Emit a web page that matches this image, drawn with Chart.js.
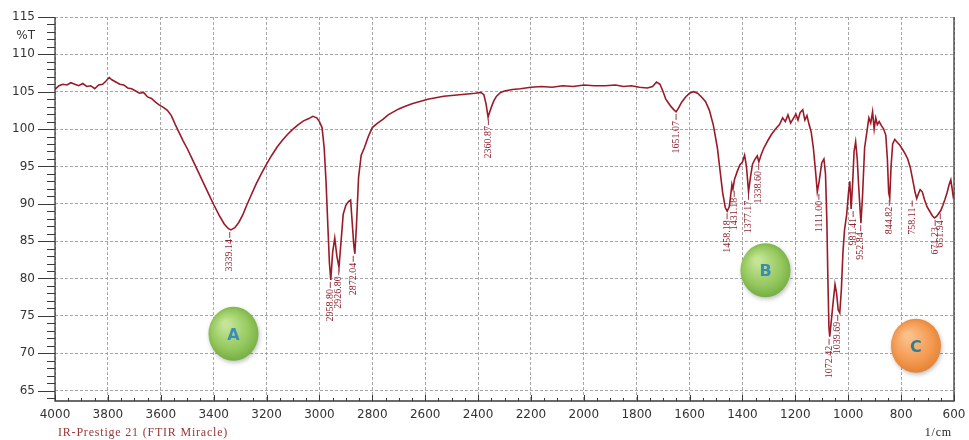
<!DOCTYPE html>
<html>
<head>
<meta charset="utf-8">
<script src="https://cdn.jsdelivr.net/npm/chart.js@4"></script>
<style>
html,body{margin:0;padding:0;background:#fff;}
canvas{display:block;}
</style>
</head>
<body>
<canvas id="c" width="969" height="440"></canvas>
<script>
// ---- data ----
const wavenumbers = [
4000,3985,3970,3955,3940,3925,3910,3895,3880,3865,3850,3835,3820,3808,3795,3785,3770,3755,3740,3725,
3710,3695,3680,3665,3650,3635,3620,3605,3590,3575,3560,3545,3530,3515,3500,3480,3460,3440,3420,3400,
3380,3360,3345,3335,3320,3305,3290,3275,3260,3240,3220,3200,3180,3160,3140,3120,3100,3080,3060,3040,
3025,3010,3000,2990,2982,2975,2968,2962,2957,2950,2942,2934,2926,2918,2910,2900,2890,2882,2876,2870,
2866,2860,2852,2842,2830,2815,2800,2780,2760,2740,2720,2700,2680,2650,2620,2590,2560,2530,2500,2470,
2440,2410,2390,2378,2370,2362,2355,2348,2340,2330,2315,2300,2270,2240,2200,2160,2120,2080,2040,2000,
1960,1920,1880,1850,1820,1790,1760,1740,1725,1712,1700,1690,1680,1670,1660,1651,1642,1630,1615,1600,
1585,1570,1555,1540,1525,1510,1495,1485,1475,1465,1458,1450,1445,1440,1436,1430,1420,1410,1400,1392,
1385,1377,1370,1362,1352,1344,1338,1330,1320,1305,1290,1275,1260,1248,1238,1228,1218,1208,1198,1190,
1182,1172,1164,1156,1148,1140,1132,1124,1117,1110,1100,1092,1086,1081,1077,1073,1070,1065,1058,1050,
1044,1038,1032,1026,1020,1014,1006,999,994,989,983,978,972,966,960,952,946,938,930,922,
915,908,902,896,890,883,875,866,858,852,847,843,838,832,824,814,804,795,785,775,
765,755,747,741,735,728,720,712,702,692,682,674,666,658,650,642,634,626,618,612,
607,603,600
];
const transmittance = [
105.3,105.8,106.0,105.9,106.2,106.0,105.8,106.1,105.7,105.8,105.4,105.9,106.0,106.4,106.9,106.6,106.3,106.0,105.9,105.5,
105.4,105.1,104.8,104.9,104.3,104.1,103.6,103.2,102.9,102.5,101.8,100.6,99.5,98.4,97.4,95.9,94.4,92.9,91.4,89.9,
88.5,87.3,86.7,86.5,86.8,87.5,88.5,89.8,91.0,92.6,94.0,95.3,96.5,97.6,98.5,99.3,100.0,100.6,101.1,101.4,
101.7,101.5,101.0,100.2,97.5,93.0,87.0,82.0,79.8,83.5,85.4,83.0,81.5,85.0,88.6,89.8,90.3,90.5,87.5,84.5,
83.3,87.0,93.5,96.5,97.5,99.0,100.2,100.8,101.3,101.9,102.3,102.7,103.0,103.4,103.7,104.0,104.2,104.4,104.5,104.6,
104.7,104.8,104.9,104.6,103.4,101.6,102.4,103.1,103.8,104.4,104.9,105.1,105.3,105.4,105.6,105.7,105.6,105.8,105.7,105.9,
105.8,105.8,105.9,105.7,105.8,105.6,105.5,105.7,106.3,106.0,105.0,104.0,103.5,103.0,102.6,102.3,102.8,103.6,104.3,104.8,
105.0,104.8,104.3,103.7,102.5,100.5,97.5,94.5,91.5,89.5,89.0,89.6,91.0,92.6,92.0,93.3,94.3,95.2,95.6,96.5,
95.0,91.6,93.5,95.3,96.0,96.4,95.6,96.5,97.4,98.4,99.3,100.0,100.6,101.5,101.0,101.9,100.8,101.4,102.0,101.2,
102.2,102.6,101.2,101.8,100.6,99.6,97.5,94.5,91.6,93.0,95.5,96.0,94.0,88.0,80.0,73.5,72.2,74.0,76.5,79.2,
78.0,75.8,75.4,78.5,83.5,86.5,88.5,91.5,93.0,89.3,93.0,97.0,98.3,96.0,92.0,87.4,91.0,97.5,99.5,101.5,
100.8,102.3,100.0,101.5,100.6,101.0,100.5,100.0,99.2,96.0,91.5,90.8,95.0,98.0,98.6,98.2,97.8,97.3,96.7,96.0,
94.8,93.0,91.5,90.7,91.3,91.9,91.6,90.6,89.6,89.0,88.4,88.1,88.3,88.7,89.1,89.8,90.6,91.5,92.6,93.2,
92.0,91.0,91.3
];
const xTickValues = [4000,3800,3600,3400,3200,3000,2800,2600,2400,2200,2000,1800,1600,1400,1200,1000,800,600];
const yTickValues = [65,70,75,80,85,90,95,100,105,110,115];
const yUnitLabel = '%T';
const peakPositions = [3339.14,2958.80,2926.80,2872.04,2360.87,1651.07,1458.18,1431.18,1377.17,1338.60,1111.00,1072.42,1039.69,981.41,952.84,844.82,758.11,671.23,651.94];
const peakDepths    = [86.5,79.8,81.5,83.3,101.6,102.3,89.0,92.0,91.6,95.6,91.6,72.2,75.4,89.3,87.4,90.8,90.7,88.1,89.0];
const peakTexts     = ['3339.14','2958.80','2926.80','2872.04','2360.87','1651.07','1458.18','1431.18','1377.17','1338.60','1111.00','1072.42','1039.69','981.41','952.84','844.82','758.11','671.23','651.94'];
const regionLetters = ['A','B','C'];
const regionWavenumbers = [3325,1313,744];
const regionT = [72.6,81.1,71.0];
const instrumentText = 'IR-Prestige 21 (FTIR Miracle)';
const xUnitText = '1/cm';

// ---- chart ----
const points = wavenumbers.map((w,i)=>({x:w,y:transmittance[i]}));
const LABEL_VALUE = 112.5;

const decor = {
  id:'decor',
  afterDatasetsDraw(chart){
    const {ctx, chartArea:a, scales:{x,y}} = chart;
    ctx.save();
    // frame lines
    ctx.strokeStyle='#3a3a3a'; ctx.lineWidth=1.3; ctx.setLineDash([]);
    ctx.beginPath();
    ctx.moveTo(a.left,a.top); ctx.lineTo(a.left,a.bottom); ctx.lineTo(a.right,a.bottom); ctx.lineTo(a.right,a.top);
    ctx.stroke();
    // y tick marks
    ctx.lineWidth=1; ctx.beginPath();
    for(let v=64; v<=115; v++){
      const py=Math.round(y.getPixelForValue(v))+0.5;
      const major=v%5===0;
      ctx.moveTo(a.left-(major?17:8),py); ctx.lineTo(a.left,py);
    }
    ctx.stroke();
    // x tick marks (inside)
    ctx.beginPath();
    for(let v=600; v<=4000; v+=50){
      const px=Math.round(x.getPixelForValue(v))+0.5;
      const major=v%200===0;
      ctx.moveTo(px,a.bottom); ctx.lineTo(px,a.bottom-(major?6:3));
    }
    ctx.stroke();
    // peak labels
    ctx.strokeStyle='#8e2230'; ctx.fillStyle='#8e2230'; ctx.lineWidth=0.9;
    ctx.font='10px "Liberation Serif", serif';
    for(let i=0;i<peakPositions.length;i++){
      const px=x.getPixelForValue(peakPositions[i]);
      const py=y.getPixelForValue(peakDepths[i]);
      ctx.beginPath(); ctx.moveTo(px,py+2); ctx.lineTo(px,py+8); ctx.stroke();
      ctx.save();
      ctx.translate(px,py+9); ctx.rotate(-Math.PI/2);
      ctx.textAlign='right'; ctx.textBaseline='middle';
      ctx.fillText(peakTexts[i],0,0);
      ctx.restore();
    }
    // region markers
    for(let i=0;i<regionLetters.length;i++){
      const cx=x.getPixelForValue(regionWavenumbers[i]);
      const cy=y.getPixelForValue(regionT[i]);
      const orange = regionLetters[i]==='C';
      const g=ctx.createRadialGradient(cx-8,cy-10,3,cx,cy,30);
      if(orange){ g.addColorStop(0,'#fbc08a'); g.addColorStop(0.6,'#f49a52'); g.addColorStop(1,'#e07c2e'); }
      else { g.addColorStop(0,'#c4e596'); g.addColorStop(0.6,'#95c85e'); g.addColorStop(1,'#6ea83c'); }
      ctx.save();
      ctx.shadowColor='rgba(0,0,0,0.25)'; ctx.shadowBlur=4; ctx.shadowOffsetX=1; ctx.shadowOffsetY=2;
      ctx.fillStyle=g;
      ctx.beginPath(); ctx.ellipse(cx,cy,25,27,0,0,Math.PI*2); ctx.fill();
      ctx.restore();
      ctx.fillStyle= orange ? '#2f7f8f' : '#3b8db5';
      ctx.font='bold 16px "DejaVu Sans", sans-serif';
      ctx.textAlign='center'; ctx.textBaseline='middle';
      ctx.fillText(regionLetters[i],cx,cy+2);
    }
    // bottom texts
    ctx.textBaseline='alphabetic';
    ctx.textAlign='left';
    ctx.fillStyle='#9b3535';
    ctx.font='12px "Liberation Serif", serif';
    try{ ctx.letterSpacing='0.8px'; }catch(e){}
    ctx.fillText(instrumentText,a.left+3,436);
    ctx.fillStyle='#222';
    ctx.textAlign='right';
    ctx.fillText(xUnitText,a.right-2,436);
    ctx.restore();
  }
};

new Chart(document.getElementById('c'),{
  type:'line',
  data:{datasets:[{
    data:points,
    borderColor:'#9a1a28',
    borderWidth:1.6,
    pointRadius:0,
    tension:0,
    fill:false
  }]},
  options:{
    responsive:false,
    animation:false,
    devicePixelRatio:1,
    layout:{padding:{left:0,right:15,top:17,bottom:0}},
    plugins:{legend:{display:false},tooltip:{enabled:false},title:{display:false}},
    scales:{
      x:{
        type:'linear', reverse:true, min:600, max:4000,
        afterBuildTicks:s=>{ s.ticks = xTickValues.map(v=>({value:v})); },
        afterFit:s=>{ s.height=39; s.paddingLeft=0; s.paddingRight=0; },
        grid:{color:'#a6a6a6', lineWidth:1, drawTicks:false},
        border:{display:false, dash:[3,2]},
        ticks:{autoSkip:false, maxRotation:0, padding:7, color:'#333',
               font:{family:'"DejaVu Sans", sans-serif', size:12},
               callback:v=>String(v)}
      },
      y:{
        type:'linear', min:63.6, max:115,
        afterBuildTicks:s=>{ s.ticks = yTickValues.concat([LABEL_VALUE]).map(v=>({value:v})); },
        afterFit:s=>{ s.width=55; s.paddingTop=0; s.paddingBottom=0; },
        grid:{color:ctx=> (ctx.tick && ctx.tick.value===LABEL_VALUE) ? 'rgba(0,0,0,0)' : '#a6a6a6', lineWidth:1, drawTicks:false},
        border:{display:false, dash:[3,2]},
        ticks:{padding:20, color:'#333',
               font:{family:'"DejaVu Sans", sans-serif', size:12},
               callback:v=> v===LABEL_VALUE ? yUnitLabel : String(v)}
      }
    }
  },
  plugins:[decor]
});
</script>
</body>
</html>
